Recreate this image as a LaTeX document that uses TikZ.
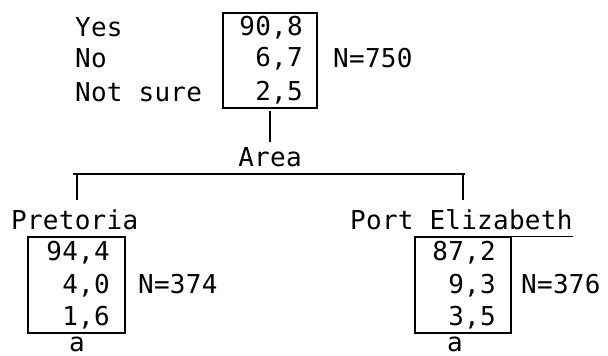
\documentclass[tikz,border=0pt]{standalone}
\usepackage{fontspec}
\newfontfamily\monof[LetterSpace=1]{DejaVu Sans Mono}
\begin{document}
\begin{tikzpicture}[x=1pt,y=-1pt,
  lab/.style={inner sep=0pt, font=\monof\fontsize{26}{26}\selectfont},
  lw/.style={lab, anchor=base west},
  le/.style={lab, anchor=base east},
  lc/.style={lab, anchor=base},
  tbox/.style={draw, line width=1.1pt, inner sep=0pt},
  conn/.style={line width=1.1pt}]
\useasboundingbox (0,0) rectangle (608,356);
% top table
\node[tbox, minimum width=94pt, minimum height=95pt] (topbox) at (270,60.5) {};
\node[lw] (yes) at (75,36) {Yes};
\node[lw] (no) at (75,67) {No};
\node[lw] (ns) at (75,101) {Not sure};
\node[le] (t1) at (303,35) {90,8};
\node[le] (t2) at (303,66) {6,7};
\node[le] (t3) at (303,100) {2,5};
\node[lw] (n750) at (333,67) {N=750};
% split
\node[lc] (area) at (270,166) {Area};
\draw[conn, shorten >=5pt, shorten <=2pt] (topbox.south) -- (area.north);
\coordinate (hl) at (73,174);
\coordinate (hr) at (465,174);
\draw[conn] (hl) -- (hr);
\coordinate (tl) at (77,174);
\coordinate (tr) at (463,174);
% Pretoria
\node[lw] (pre) at (11,229) {Pretoria};
\node[tbox, minimum width=97pt, minimum height=96pt] (lbox) at (76.5,285) {};
\node[le] (l1) at (110,260) {94,4};
\node[le] (l2) at (110,293) {4,0};
\node[le] (l3) at (110,325) {1,6};
\node[lw] (n374) at (138,293) {N=374};
\node[lc] (la) at (77,351) {a};
\draw[conn, shorten >=9pt] (tl) -- (tl |- pre.north);
% Port Elizabeth
\node[lw] (pe) at (350,229) {Port Elizabeth};
\node[tbox, minimum width=96pt, minimum height=96pt] (rbox) at (463,285) {};
\node[le] (r1) at (496,260) {87,2};
\node[le] (r2) at (496,293) {9,3};
\node[le] (r3) at (496,325) {3,5};
\node[lw] (n376) at (521,293) {N=376};
\node[lc] (ra) at (455,351) {a};
\draw[conn] (rbox.north west) -- (rbox.north west -| pe.east);
\draw[conn, shorten >=9pt] (tr) -- (tr |- pe.north);
\end{tikzpicture}
\end{document}
